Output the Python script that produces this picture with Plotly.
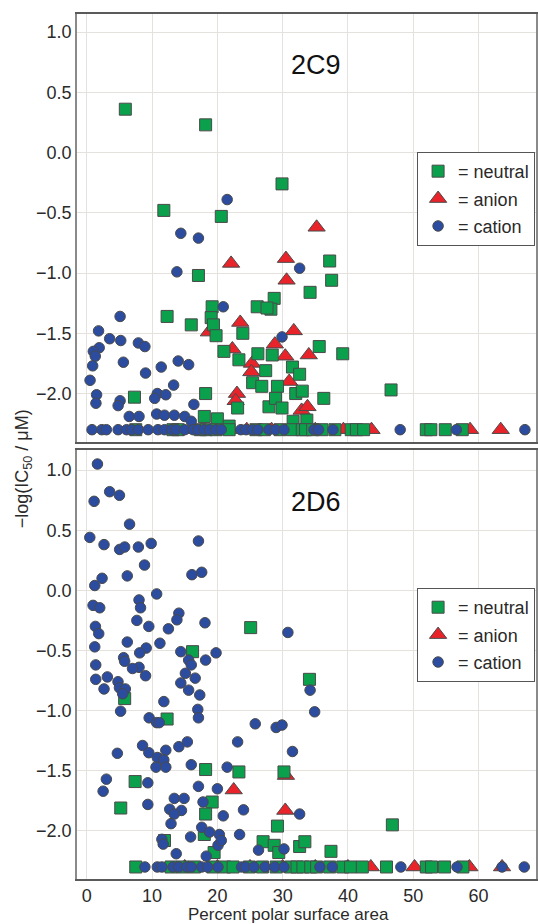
import plotly.graph_objects as go

# ---------------- 2C9 panel ----------------
c9_neutral_x = [5.9, 18.2, 11.8, 20.6, 29.9, 17.1, 37.2, 37.5, 34.2, 28.7, 28.2, 26.1, 27.6, 19.2, 19.05,
                19.4, 19.8, 12.3, 16.0, 21.0, 23.3, 23.9, 26.2, 28.4, 27.4, 25.4, 26.8, 29.2, 31.5, 32.6,
                32.0, 33.0, 35.6, 36.3, 39.2, 46.6, 23.1, 27.9, 28.9, 29.9, 31.6, 33.7, 7.3, 18.2, 18.0,
                20.0, 21.8,
                7.5, 13.2, 14.0, 17.4, 18.3, 19.8, 21.8, 25.9, 27.2, 29.6, 31.5, 33.0, 33.5, 34.6, 36.0,
                38.0, 40.5, 41.3, 42.4, 52.0, 52.7, 54.9, 57.5]
c9_neutral_y = [0.36, 0.23, -0.48, -0.53, -0.26, -1.02, -0.90, -1.06, -1.16, -1.21, -1.30, -1.28, -1.29, -1.28, -1.37,
                -1.43, -1.52, -1.36, -1.43, -1.65, -1.72, -1.50, -1.67, -1.68, -1.81, -1.91, -1.94, -1.94, -1.78, -1.84,
                -2.00, -1.98, -1.61, -2.04, -1.67, -1.97, -2.12, -2.11, -2.04, -2.12, -2.23, -2.22, -2.03, -2.00, -2.19,
                -2.21, -2.27,
                -2.3, -2.3, -2.3, -2.3, -2.3, -2.3, -2.3, -2.3, -2.3, -2.3, -2.3, -2.3, -2.3, -2.3, -2.3,
                -2.3, -2.3, -2.3, -2.3, -2.3, -2.3, -2.3, -2.3]

c9_anion_x = [35.2, 22.1, 30.5, 30.6, 23.5, 31.7, 28.8, 30.4, 34.0, 22.3, 25.3, 25.2, 31.0, 23.0, 22.8,
              32.9, 33.8, 18.7,
              16.5, 22.0, 24.5, 28.3, 31.0, 33.5, 35.0, 39.3, 43.6, 58.7, 63.4]
c9_anion_y = [-0.62, -0.92, -0.88, -1.06, -1.41, -1.48, -1.59, -1.69, -1.68, -1.63, -1.75, -1.82, -1.90, -2.00, -2.06,
              -2.14, -2.11, -1.49,
              -2.3, -2.3, -2.3, -2.3, -2.3, -2.3, -2.3, -2.3, -2.3, -2.3, -2.3]

c9_cation_x = [21.5, 14.4, 17.1, 13.8, 32.6, 20.9, 5.1, 1.8, 3.5, 5.2, 7.9, 8.9, 1.9, 1.0, 1.3,
               0.9, 5.6, 11.4, 9.0, 14.0, 15.6, 0.5, 1.5, 1.4, 5.1, 4.8, 10.8, 10.4, 12.1, 13.3,
               16.4, 6.5, 8.0, 10.7, 11.9, 13.4, 15.0, 16.0, 29.9,
               0.8, 2.3, 3.0, 4.8, 6.1, 6.9, 7.9, 9.4, 10.9, 11.9, 13.0, 13.7, 15.0, 16.3, 17.0,
               18.0, 18.8, 19.8, 20.6, 23.6, 24.4, 25.4, 26.2, 27.9, 28.9, 30.2, 34.8, 35.5, 37.7,
               48.0, 56.6, 67.1]
c9_cation_y = [-0.39, -0.67, -0.71, -0.99, -0.96, -1.28, -1.36, -1.48, -1.545, -1.56, -1.58, -1.61, -1.62, -1.65, -1.69,
               -1.77, -1.74, -1.78, -1.83, -1.73, -1.76, -1.89, -2.01, -2.08, -2.06, -2.10, -2.00, -2.04, -2.01, -1.93,
               -2.09, -2.19, -2.19, -2.17, -2.18, -2.18, -2.19, -2.23, -1.53,
               -2.3, -2.3, -2.3, -2.3, -2.3, -2.3, -2.3, -2.3, -2.3, -2.3, -2.3, -2.3, -2.3, -2.3, -2.3,
               -2.3, -2.3, -2.3, -2.3, -2.3, -2.3, -2.3, -2.3, -2.3, -2.3, -2.3, -2.3, -2.3, -2.3,
               -2.3, -2.3, -2.3]

# ---------------- 2D6 panel ----------------
d6_neutral_x = [16.2, 25.1, 34.1, 5.8, 12.3, 7.4, 5.2, 18.2, 23.3, 30.2, 19.2, 18.2, 18.0, 11.9, 19.5,
                29.2, 27.0, 28.7, 29.4, 32.6, 33.4, 37.4, 46.8,
                7.5, 12.9, 14.7, 16.5, 19.3, 21.1, 22.4, 24.9, 26.9, 29.0, 31.2, 32.2, 33.1, 34.3, 35.2,
                37.2, 39.2, 40.4, 42.2, 45.9, 52.0, 52.8, 54.8, 57.6]
d6_neutral_y = [-0.51, -0.31, -0.74, -0.90, -1.07, -1.59, -1.81, -1.49, -1.51, -1.51, -1.76, -1.86, -2.03, -2.08, -2.18,
                -1.96, -2.09, -2.12, -2.18, -2.13, -2.09, -2.17, -1.95,
                -2.3, -2.3, -2.3, -2.3, -2.3, -2.3, -2.3, -2.3, -2.3, -2.3, -2.3, -2.3, -2.3, -2.3, -2.3,
                -2.3, -2.3, -2.3, -2.3, -2.3, -2.3, -2.3, -2.3, -2.3]

d6_anion_x = [22.5, 30.4, 30.5,
              15.0, 20.0, 25.0, 30.0, 35.0, 40.0, 43.5, 50.2, 58.6, 63.6]
d6_anion_y = [-1.66, -1.83, -1.54,
              -2.3, -2.3, -2.3, -2.3, -2.3, -2.3, -2.3, -2.3, -2.3, -2.3]

d6_cation_x = [1.63, 1.12, 3.5, 5.0, 6.55, 0.46, 2.64, 5.03, 5.8, 7.9, 9.86, 17.1, 8.84, 6.2, 16.1,
               17.6, 2.34, 1.22, 10.7, 8.0, 0.96, 1.98, 8.23, 14.1, 13.8, 7.67, 9.5, 12.5, 18.1, 1.32,
               1.83, 6.2, 11.2, 1.22, 9.1, 8.1, 14.4, 19.8, 5.64, 5.8, 15.6, 16.0, 18.2, 1.37, 8.0,
               7.0, 9.0, 3.15, 1.37, 15.1, 16.6, 4.78, 14.4, 2.64, 5.0, 5.9, 30.8, 34.2,
               15.6, 17.3, 5.5, 11.8, 5.18, 17.0, 17.1, 9.55, 10.7, 11.1, 25.8, 29.0, 29.9, 23.1, 8.54,
               9.5, 12.1, 14.1, 15.4, 4.68, 10.8, 11.8, 34.9, 31.5, 32.6, 30.2,
               10.6, 12.1, 16.0, 21.5, 3.0, 2.5, 9.35, 17.1, 20.0, 13.4, 14.9, 17.8, 9.35, 12.7, 14.5,
               13.4, 24.0, 20.9, 12.9, 17.6, 18.8, 20.3, 23.4, 15.9, 11.5, 11.7, 20.1, 20.6, 26.3, 13.7,
               18.3,
               8.9, 10.8, 11.5, 13.2, 14.1, 15.3, 16.0, 17.6, 18.5, 20.1, 23.7, 24.3, 25.6, 27.3, 28.8,
               30.2, 35.7, 37.6, 48.1, 56.7, 63.6, 67.0]
d6_cation_y = [1.05, 0.74, 0.82, 0.79, 0.55, 0.44, 0.38, 0.34, 0.36, 0.36, 0.39, 0.41, 0.21, 0.12, 0.13,
               0.15, 0.10, 0.04, -0.03, -0.08, -0.125, -0.145, -0.145, -0.19, -0.245, -0.25, -0.30, -0.32, -0.27, -0.30,
               -0.36, -0.43, -0.44, -0.47, -0.48, -0.52, -0.51, -0.52, -0.56, -0.59, -0.58, -0.62, -0.58, -0.62, -0.64,
               -0.65, -0.71, -0.72, -0.74, -0.69, -0.73, -0.76, -0.77, -0.82, -0.81, -0.82, -0.35, -0.83,
               -0.83, -0.87, -0.86, -0.925, -1.005, -0.99, -1.06, -1.06, -1.10, -1.10, -1.11, -1.14, -1.12, -1.26, -1.29,
               -1.35, -1.33, -1.30, -1.26, -1.355, -1.39, -1.41, -1.01, -1.34, -1.86, -2.15,
               -1.47, -1.47, -1.45, -1.47, -1.57, -1.67, -1.60, -1.63, -1.65, -1.73, -1.73, -1.76, -1.78, -1.82, -1.83,
               -1.86, -1.825, -1.875, -1.94, -1.97, -2.01, -2.03, -2.03, -2.05, -2.07, -2.11, -2.12, -2.08, -2.16, -2.19,
               -2.21,
               -2.3, -2.3, -2.3, -2.3, -2.3, -2.3, -2.3, -2.3, -2.3, -2.3, -2.3, -2.3, -2.3, -2.3, -2.3,
               -2.3, -2.3, -2.3, -2.3, -2.3, -2.3, -2.3]

legend_names = ["= neutral", "= anion", "= cation"]
panel_labels = ["2C9", "2D6"]
x_ticks = [0, 10, 20, 30, 40, 50, 60]
y_ticks = [-2.0, -1.5, -1.0, -0.5, 0.0, 0.5, 1.0]

GREEN = "#0aa04c"
RED = "#e8242a"
BLUE = "#2b4c9f"
EDGE = "#4a4a4a"
FONT = "Liberation Sans, Arial, sans-serif"
TXT = "#2a2a2a"

styles = {
    "neutral": dict(symbol="square", size=12, color=GREEN),
    "anion": dict(symbol="triangle-up", size=15, color=RED),
    "cation": dict(symbol="circle", size=10.5, color=BLUE),
}

fig = go.Figure()

panels = [
    ("x2", "y2", "legend", {"neutral": (c9_neutral_x, c9_neutral_y),
                            "anion": (c9_anion_x, c9_anion_y),
                            "cation": (c9_cation_x, c9_cation_y)}),
    ("x", "y", "legend2", {"neutral": (d6_neutral_x, d6_neutral_y),
                           "anion": (d6_anion_x, d6_anion_y),
                           "cation": (d6_cation_x, d6_cation_y)}),
]

# draw order: anion below, then neutral, then cation on top
for xa, ya, leg, data in panels:
    for kind, rank in [("anion", 2), ("neutral", 1), ("cation", 3)]:
        xs, ys = data[kind]
        st = styles[kind]
        fig.add_trace(go.Scatter(
            x=xs, y=ys, mode="markers", xaxis=xa, yaxis=ya,
            name=legend_names[rank - 1], legend=leg, legendrank=rank,
            legendgroup=f"{leg}_{kind}",
            marker=dict(symbol=st["symbol"], size=st["size"], color=st["color"],
                        line=dict(color=EDGE, width=1)),
        ))

axis_common = dict(showgrid=True, gridcolor="#e5e1dd", gridwidth=1, zeroline=False,
                   mirror=True, showline=True, ticks="",
                   tickfont=dict(family=FONT, size=18, color=TXT))

legend_common = dict(xanchor="right", yanchor="top", bgcolor="white",
                     bordercolor="#555555", borderwidth=1,
                     font=dict(family=FONT, size=18, color=TXT), tracegroupgap=1,
                     itemsizing="trace")

fig.update_layout(
    width=538, height=924,
    margin=dict(l=77, r=0, t=14, b=45),
    paper_bgcolor="white", plot_bgcolor="white",
    showlegend=True,
    xaxis=dict(domain=[0, 1], range=[-1.5, 68.8], tickvals=x_ticks, anchor="y",
               linecolor="#5a5a5a", linewidth=1.5, **axis_common),
    xaxis2=dict(domain=[0, 1], range=[-1.5, 68.8], tickvals=x_ticks, anchor="y2",
                showticklabels=False, linecolor="#5a5a5a", linewidth=1.5, **axis_common),
    yaxis=dict(domain=[0, 0.496], range=[-2.4, 1.167], tickvals=y_ticks, tickformat=".1f",
               anchor="x", linecolor="#8a8a8a", linewidth=1.5, **axis_common),
    yaxis2=dict(domain=[0.5055, 1], range=[-2.4, 1.15], tickvals=y_ticks, tickformat=".1f",
                anchor="x2", linecolor="#8a8a8a", linewidth=1.5, **axis_common),
    legend=dict(x=0.998, y=0.8405, **legend_common),
    legend2=dict(x=0.998, y=0.3364, **legend_common),
)

fig.add_annotation(x=35.1, y=0.727, xref="x2", yref="y2", text=panel_labels[0], showarrow=False,
                   font=dict(family=FONT, size=27, color="#111111"))
fig.add_annotation(x=35.1, y=0.733, xref="x", yref="y", text=panel_labels[1], showarrow=False,
                   font=dict(family=FONT, size=27, color="#111111"))

fig.add_annotation(x=-0.115, y=0.474, xref="paper", yref="paper", xanchor="center", yanchor="middle",
                   text="\u2212log(IC<sub>50</sub> / \u03bcM)", textangle=-90, showarrow=False,
                   font=dict(family=FONT, size=18, color=TXT))
fig.add_annotation(x=0.46, y=-0.0412, xref="paper", yref="paper", xanchor="center",
                   text="Percent polar surface area", showarrow=False, yanchor="middle",
                   font=dict(family=FONT, size=17, color=TXT))

fig.write_html("out.html")
